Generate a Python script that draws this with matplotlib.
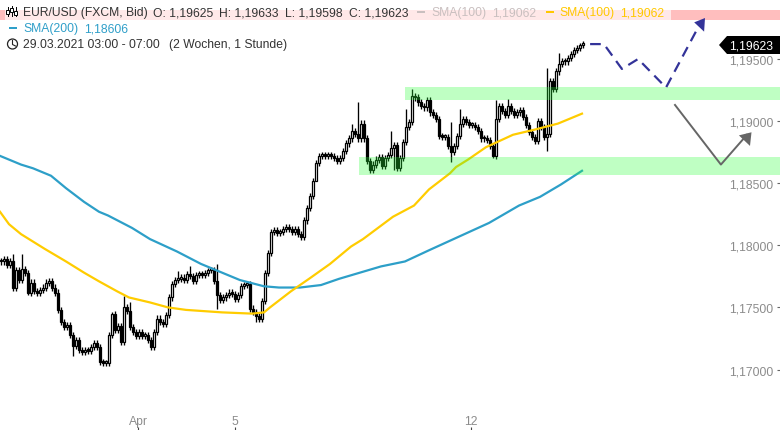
import numpy as np
import matplotlib
matplotlib.use("Agg")
import matplotlib.pyplot as plt
from matplotlib.patches import Polygon, Circle, Rectangle

plt.rcParams['font.family'] = ['Liberation Sans', 'DejaVu Sans']

# Values are pips above 1.17000, one entry per bar
closes = [87,89,84,87,66,80,72,81,78,62,70,63,62,64,66,70,71,66,62,48,38,34,36,28,19,24,16,14,16,15,18,21,18,6,5,5,28,45,32,35,22,50,47,34,30,27,30,27,28,24,18,30,41,38,37,44,58,69,72,73,74,72,77,75,71,76,77,76,78,80,80,71,60,56,58,60,62,61,57,60,67,68,69,49,46,43,41,55,78,94,111,112,110,111,113,115,113,111,113,109,107,120,130,140,152,166,172,173,172,173,172,170,168,170,176,182,186,192,190,186,198,186,168,161,165,169,171,164,170,173,178,181,162,170,183,195,199,220,219,215,212,211,217,207,205,202,188,187,187,180,175,180,188,198,202,199,197,197,195,192,186,186,185,180,172,202,212,208,205,212,208,205,207,209,203,197,191,187,184,200,195,187,190,232,226,240,246,248,248,251,254,257,259,261,262]
high_wicks = {4:93,7:93,37:46,41:59,43:54,59:79,63:83,69:82,72:85,84:52,117:198,119:215,130:192,135:210,137:226,150:199,153:210,165:217,169:218,182:243,186:255,193:263}
low_wicks = {4:63,9:60,24:11,33:4,40:20,72:49,85:38,105:160,123:158,131:161,150:167,164:170,182:176}
sma200_bars = [0,7,11,17,22,28,33,36,44,50,59,67,73,80,88,93,100,107,113,120,127,135,143,153,163,173,180,187,194]
sma200 = [172,165,162,156,146,135,127,124,114,105,95,85,79,72,67,66,66,68,73,78,83,87,96,107,118,132,139,149,160]
sma100_bars = [0,3,7,15,22,28,33,39,43,50,56,62,74,84,88,90,97,103,110,117,121,131,138,143,150,152,156,162,171,178,186,194]
sma100 = [127,117,109,97,87,78,71,63,58,54,50,48,46,45,46,50,63,73,85,99,105,123,132,145,158,163,169,179,189,193,198,206]
y_ticks = [1.170,1.175,1.180,1.185,1.190,1.195]
y_labels = ['1,17000','1,17500','1,18000','1,18500','1,19000','1,19500']
x_ticks = [46,78.3,157]
x_labels = ['Apr','5','12']
blue_path_x = [196.7,201.3,207.3,212.7,222,233.5]
blue_path_y = [262,262,242,250,227,279]
grey_path_x = [225,240.3,249]
grey_path_y = [213,165,189]

BASE = 1.17
def px(p):
    return BASE + np.asarray(p, dtype=float) / 10000

fig = plt.figure(figsize=(7.8, 4.31), dpi=100)
ax = fig.add_axes([0, 0, 1, 1])
ax.set_xlim(0, 260)
ax.set_ylim(1.16513, 1.19983)
for s in ax.spines.values():
    s.set_visible(False)

# Top resistance band
ax.axhspan(px(281.3), px(289.4), color='#ffbebe', lw=0, zorder=1)

# Candles
c = np.array(closes, dtype=float)
o = np.r_[c[0], c[:-1]]
x = np.arange(len(c)) + 0.2
up = c >= o
hi = np.maximum(o, c) + 2.5
lo = np.minimum(o, c) - 2.5
for i, v in high_wicks.items():
    hi[i] = v
for i, v in low_wicks.items():
    lo[i] = v
ax.vlines(x, px(lo), px(hi), color='black', lw=0.95, zorder=3)
bottom = np.minimum(o, c)
height = np.maximum(np.abs(c - o), 1.5)
ax.bar(x, height / 10000, width=0.72, bottom=px(bottom),
       color=['white' if u else 'black' for u in up],
       edgecolor='black', linewidth=0.9, zorder=4)

# Moving averages
ax.plot(sma200_bars, px(sma200), color='#2d9fc8', lw=1.6, zorder=5, solid_joinstyle='round')
ax.plot(sma100_bars, px(sma100), color='#ffcc00', lw=1.6, zorder=5, solid_joinstyle='round')

# Support zones over the candles
zone = (0.167, 1.0, 0.23, 0.3)
ax.add_patch(Rectangle((135, px(217)), 125, 10.4 / 10000, fc=zone, ec='none', zorder=6))
ax.add_patch(Rectangle((119.7, px(156.6)), 140.3, 14.4 / 10000, fc=zone, ec='none', zorder=6))

# Scenario arrows
ax.plot(blue_path_x, px(blue_path_y), color='#333399', lw=1.6, dashes=(4.8, 3), zorder=7)
ax.add_patch(Polygon([(235, px(283)), (231.4, px(279.5)), (234.7, px(272))], fc='#333399', ec='none', zorder=7))
ax.plot(grey_path_x, px(grey_path_y), color='#666666', lw=1.4, zorder=7)
ax.add_patch(Polygon([(250.5, px(191)), (246.3, px(188.5)), (250, px(180))], fc='#666666', ec='none', zorder=7))

# Axes
ax.yaxis.tick_right()
ax.set_yticks(y_ticks, y_labels)
ax.set_xticks(x_ticks, x_labels)
ax.tick_params(axis='y', direction='in', length=2, width=0.8, color='#666666',
               labelcolor='#8c8c8c', labelsize=8.7, pad=-5)
ax.tick_params(axis='x', direction='in', length=2.5, width=0.8, color='#444444',
               labelcolor='#8c8c8c', labelsize=8.7, pad=-2.5)
for t in ax.get_yticklabels():
    t.set_ha('right')
for t in ax.get_xticklabels():
    t.set_va('bottom')

# Overlay in screen pixels for the legend header and price tag
ov = fig.add_axes([0, 0, 1, 1], facecolor='none')
ov.set_xlim(0, 780)
ov.set_ylim(431, 0)
ov.axis('off')
ov.add_patch(Rectangle((5, 3), 666, 18.7, fc=(1, 1, 1, 0.66), ec='none'))

dark = '#333333'
soft = '#c9bfbf'
yel = '#ffc800'
blu = '#2f9fc9'
fs = 8.75
for tx, ty, s, col in [
    (23, 13, 'EUR/USD (FXCM, Bid)', dark), (153, 13, 'O: 1,19625', dark),
    (219, 13, 'H: 1,19633', dark), (285, 13, 'L: 1,19598', dark),
    (349, 13, 'C: 1,19623', dark), (431, 13, 'SMA(100)', soft),
    (492, 13, '1,19062', soft), (559, 13, 'SMA(100)', yel), (620, 13, '1,19062', yel),
    (23, 29, 'SMA(200)', blu), (84, 29, '1,18606', blu),
    (23, 45, '29.03.2021 03:00 - 07:00', dark), (169, 45, '(2 Wochen, 1 Stunde)', dark)]:
    ov.text(tx, ty, s, color=col, fontsize=fs, va='center', ha='left')
ov.add_patch(Rectangle((417, 11.8), 8, 2.6, fc=soft, ec='none'))
ov.add_patch(Rectangle((546, 11.8), 8, 2.6, fc=yel, ec='none'))
ov.add_patch(Rectangle((9, 27.8), 8, 2.6, fc=blu, ec='none'))

# Candle icon
for ix, y0, y1, b0, b1 in [(7.5, 8, 17, 11, 15), (11.5, 7, 17, 9, 13), (15.5, 8, 17, 12, 16)]:
    ov.plot([ix, ix], [y0, y1], color='black', lw=0.7)
    ov.add_patch(Rectangle((ix - 1.3, b0), 2.6, b1 - b0, fc='white', ec='black', lw=0.7, zorder=3))
# Clock icon
ov.add_patch(Circle((12.5, 45), 5, fc='none', ec='#222222', lw=0.9))
ov.plot([12.5, 12.5, 15.5], [41.5, 45.5, 47], color='#222222', lw=0.8)

# Price tag
ov.add_patch(Polygon([(719, 46), (727, 37), (780, 37), (780, 55), (727, 55)], fc='black', ec='none', zorder=8))
ov.text(751, 46.5, '1,19623', color='white', fontsize=fs, ha='center', va='center', zorder=9)

fig.savefig('out.png', dpi=100)
